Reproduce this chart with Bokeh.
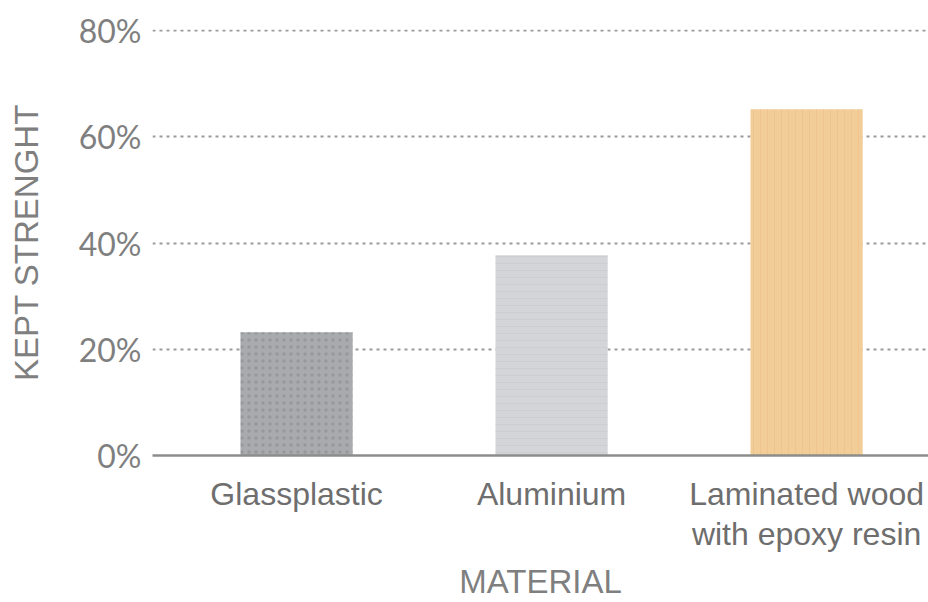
from bokeh.plotting import figure
from bokeh.models import Range1d, FixedTicker, NumeralTickFormatter
from bokeh.embed import file_html
from bokeh.resources import INLINE

materials = ["Glassplastic", "Aluminium", "Laminated wood\nwith epoxy resin"]
kept_strength = [0.232, 0.377, 0.652]
bar_colors = ["#A8AAAE", "#D4D5D9", "#F3CD98"]
hatch_colors = ["#75777C", "#BFC0C5", "#E6B67A"]
hatch_patterns = ["dot", "horizontal_line", "vertical_line"]
y_ticks = [0, 0.2, 0.4, 0.6, 0.8]

xs = list(range(len(materials)))

p = figure(width=928, height=602, output_backend="svg", toolbar_location=None,
           x_range=Range1d(-0.565, 2.478), y_range=Range1d(0, 0.802),
           min_border_left=152, min_border_right=0, min_border_top=29,
           min_border_bottom=145)
p.outline_line_color = None
p.background_fill_color = "white"

p.vbar(x=xs, top=kept_strength, width=0.44, fill_color=bar_colors,
       line_color=None, hatch_pattern=hatch_patterns, hatch_color=hatch_colors,
       hatch_alpha=0.35, hatch_scale=7, hatch_weight=1)

font_cat = "Liberation Sans"
grey = "#7F7F7F"

p.xaxis.ticker = FixedTicker(ticks=xs)
p.xaxis.major_label_overrides = {i: m for i, m in enumerate(materials)}
p.xaxis.major_label_text_font = font_cat
p.xaxis.major_label_text_font_size = "32px"
p.xaxis.major_label_text_line_height = 1.12
p.xaxis.major_label_text_color = "#6E6E6E"
p.xaxis.major_label_standoff = 14
p.xaxis.major_tick_line_color = None
p.xaxis.minor_tick_line_color = None
p.xaxis.axis_line_color = "#8C8C8C"
p.xaxis.axis_line_width = 2.5
p.xaxis.axis_label = "MATERIAL"
p.xaxis.axis_label_text_font = font_cat
p.xaxis.axis_label_text_font_size = "33px"
p.xaxis.axis_label_text_line_height = 1.0
p.xaxis.axis_label_text_font_style = "normal"
p.xaxis.axis_label_text_color = grey
p.xaxis.axis_label_standoff = 8

p.yaxis.ticker = FixedTicker(ticks=y_ticks)
p.yaxis.formatter = NumeralTickFormatter(format="0%")
p.yaxis.major_label_text_font = "Lato"
p.yaxis.major_label_text_font_size = "32px"
p.yaxis.major_label_text_color = grey
p.yaxis.major_label_standoff = 5
p.yaxis.major_tick_line_color = None
p.yaxis.minor_tick_line_color = None
p.yaxis.axis_line_color = None
p.yaxis.axis_label = "KEPT STRENGHT"
p.yaxis.axis_label_text_font = font_cat
p.yaxis.axis_label_text_font_size = "33px"
p.yaxis.axis_label_text_font_style = "normal"
p.yaxis.axis_label_text_color = grey
p.yaxis.axis_label_standoff = 31

p.xgrid.grid_line_color = None
p.ygrid.ticker = FixedTicker(ticks=y_ticks[1:])
p.ygrid.grid_line_color = "#9A9A9A"
p.ygrid.grid_line_width = 2
p.ygrid.grid_line_dash = "3 4"

open("out.html", "w").write(file_html(p, INLINE))
